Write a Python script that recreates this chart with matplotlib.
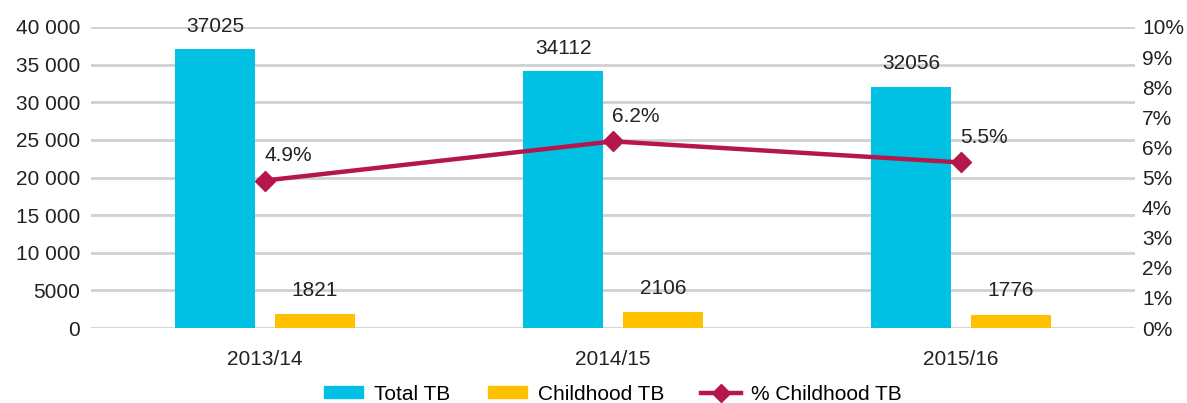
import matplotlib.pyplot as plt
import numpy as np
from matplotlib.lines import Line2D
from matplotlib.patches import Patch

plt.rcParams['font.family'] = ['Liberation Sans', 'DejaVu Sans']

years = ['2013/14', '2014/15', '2015/16']
total_tb = [37025, 34112, 32056]
child_tb = [1821, 2106, 1776]
pct_child = [4.9, 6.2, 5.5]

cyan = '#00C1E3'
yellow = '#FFC000'
red = '#B5174B'
txt = '#222222'

fig = plt.figure(figsize=(11.87, 4.03), dpi=100)
ax = fig.add_axes([91 / 1187, 1 - 328 / 403, (1135 - 91) / 1187, (328 - 27) / 403])
ax2 = ax.twinx()

x = np.arange(len(years))
w = 0.23
off = 0.143
ax.bar(x - off, total_tb, w, color=cyan, zorder=3)
ax.bar(x + off, child_tb, w, color=yellow, zorder=3)

for xi, v in zip(x, total_tb):
    ax.annotate(str(v), (xi - off, v), xytext=(0, 23), textcoords='offset pixels',
                ha='center', va='center', fontsize=15, color=txt)
for xi, v in zip(x, child_tb):
    ax.annotate(str(v), (xi + off, v), xytext=(0, 24), textcoords='offset pixels',
                ha='center', va='center', fontsize=15, color=txt)

ax2.plot(x, pct_child, color=red, lw=3.2, marker='D', markersize=10, zorder=5)
for xi, v in zip(x, pct_child):
    ax2.annotate(f'{v}%', (xi, v), xytext=(23, 25), textcoords='offset pixels',
                 ha='center', va='center', fontsize=15, color=txt)

ax.set_xlim(-0.5, 2.5)
ax.set_ylim(0, 40000)
ax2.set_ylim(0, 10)

yt = np.arange(0, 40001, 5000)
ax.set_yticks(yt)
ax.set_yticklabels([f'{v:,}'.replace(',', ' ') if v >= 10000 else str(v) for v in yt])
ax2.set_yticks(np.arange(0, 11, 1))
ax2.set_yticklabels([f'{v}%' for v in range(11)])

ax.set_xticks(x)
ax.set_xticklabels(years)

ax.grid(axis='y', color='#D0D0D0', lw=2, zorder=0)
ax.set_axisbelow(True)
for a in (ax, ax2):
    for s in a.spines.values():
        s.set_visible(False)
    a.tick_params(length=0, labelsize=15, colors=txt)
ax.tick_params(axis='y', pad=8)
ax.tick_params(axis='x', pad=16)
ax2.tick_params(axis='y', pad=5)

handles = [Patch(color=cyan, label='Total TB'),
           Patch(color=yellow, label='Childhood TB'),
           Line2D([], [], color=red, lw=3.2, marker='D', markersize=9, label='% Childhood TB')]
fig.legend(handles=handles, loc='center', bbox_to_anchor=(613 / 1187, 1 - 394 / 403), ncol=3,
           frameon=False, fontsize=15, handlelength=1.9, handleheight=0.5,
           columnspacing=1.8, handletextpad=0.5)

fig.savefig('out.png', dpi=100)
